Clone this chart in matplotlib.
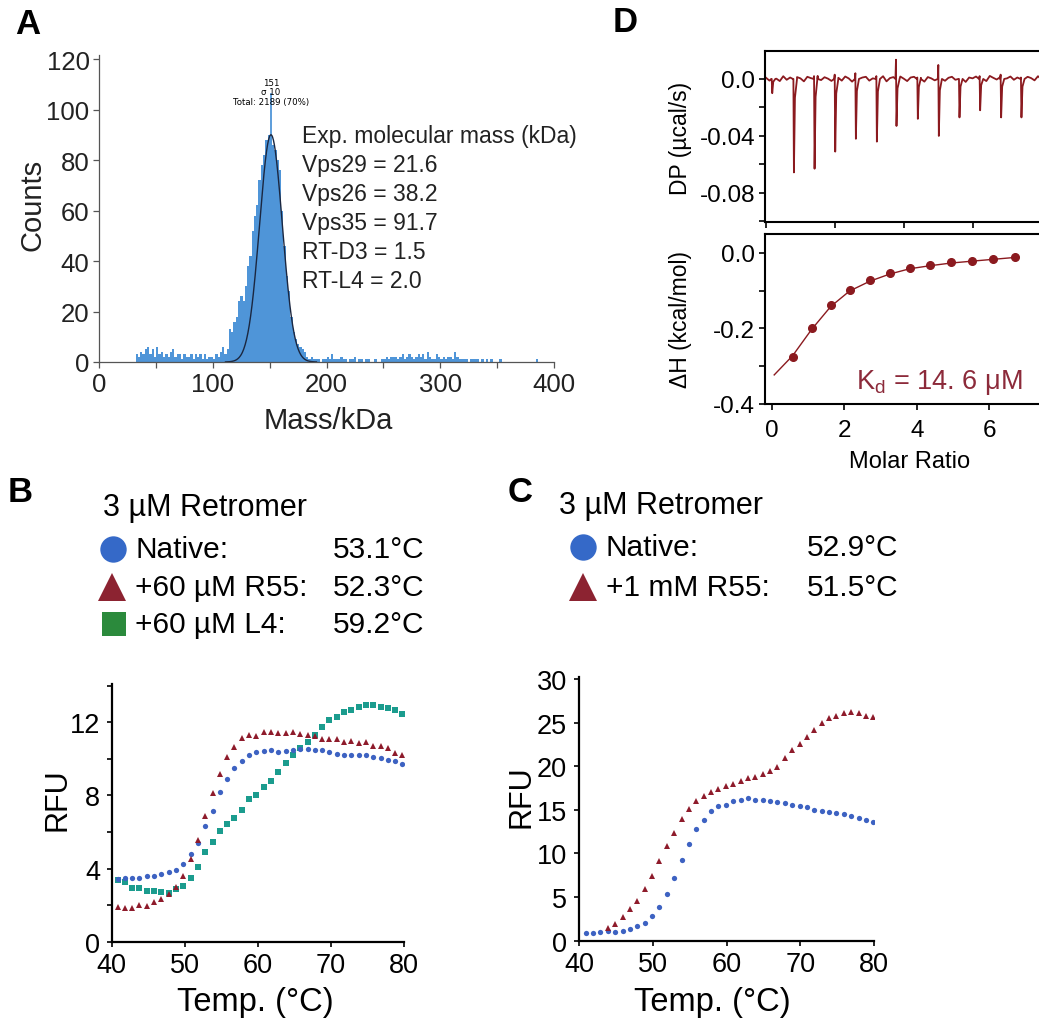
import numpy as np
import matplotlib
matplotlib.use('Agg')
import matplotlib.pyplot as plt
from matplotlib.lines import Line2D
from matplotlib.ticker import MultipleLocator, FixedLocator, FixedFormatter

plt.rcParams['font.family'] = ['Liberation Sans', 'DejaVu Sans']
plt.rcParams['axes.unicode_minus'] = False
plt.rcParams['mathtext.fontset'] = 'custom'
plt.rcParams['mathtext.rm'] = 'Liberation Sans'

W, H = 1039, 1020

# ---------------- data ----------------
# A: mass photometry histogram (2 kDa bins starting at 30 kDa)
hist_start = 30
hist_bin = 2
hist_counts = [
    0, 3, 2, 4, 3,   5, 6, 3, 5, 2,   6, 3, 4, 2, 3,   2, 4, 5, 2, 3,
    3, 1, 3, 2, 2,   3, 1, 3, 2, 3,   1, 3, 1, 2, 2,   1, 3, 2, 4, 6,
    3, 5, 13, 12, 16,   18, 24, 26, 24, 30,   38, 42, 52, 58, 62,
    72, 78, 82, 88, 90,   89, 86, 84, 80, 76,   60, 46, 34, 28, 18,
    12, 9, 7, 6, 5,   4, 2, 1, 2, 1,   1, 1, 0, 1, 1,   2, 1, 3, 1, 1,
    1, 2, 1, 1, 0,   1, 1, 2, 0, 1,   1, 0, 1, 1, 0,   0, 1, 0, 0, 1,
    1, 2, 1, 2, 2,   2, 1, 2, 3, 1,   2, 3, 2, 1, 2,   3, 2, 3, 1, 4,
    2, 1, 1, 3, 2,   1, 2, 1, 2, 2,   1, 4, 2, 1, 1,   1, 1, 0, 1, 1,
    1, 1, 0, 1, 0,   1, 0, 1, 0, 0,   0, 1, 0, 0, 0,   0, 0, 0, 0, 0,
    0, 0, 0, 0, 0,   0, 0, 1, 0, 0,
]
fit_mu = 151
fit_sigma = 10
fit_amp = 90
peak_marker = 106
fit_note = "151\nσ 10\nTotal: 2189 (70%)"
mass_lines = ["Exp. molecular mass (kDa)", "Vps29 = 21.6", "Vps26 = 38.2",
              "Vps35 = 91.7", "RT-D3 = 1.5", "RT-L4 = 2.0"]

# D: ITC raw trace (min, ucal/s) and integrated heats
base_dp = [0.8, -1.2, 1.6, 0.2, -1.5, 1.9, -0.6, 1.0, -2.4, 1.3,
           0.4, -1.7, 1.5, 0.6, -2.0, 2.1, -0.8, 1.2, 0.2, -1.4,
           2.2, 0.8, -1.2, 1.7, 0.4, -1.9, 2.4, -0.4, 1.0, 1.5,
           -1.2, 0.4, 0.8, -0.6, 1.9, -1.7, 0.6, 1.3, -0.8, 1.7,
           0.2, -1.5, 1.0, 1.5, -0.4, 0.8, -1.9, 1.3, 0.4, -1.0,
           1.9, 0.6, -1.3, 0.8, 1.5, -0.6, 0.2, 1.2, -2.1, 1.0,
           0.4, 1.7, -0.8, 0.6, -1.5, 2.1, 0.8, -0.4, 1.2, -1.7,
           0.4, 1.7, -0.6, 1.0, 0.2, -1.3, 1.5, 0.6, -1.0, 1.9,
           -0.2, 0.8, -1.5, 1.2, 0.4, -0.8, 1.0, 0.3]  # x 1e-3
inj_t = [1.7, 8.0, 14.0, 20.0, 26.0, 32.1, 37.8, 44.0, 50.1, 56.1, 62.1, 68.2, 74.1]
inj_dip = [-0.010, -0.0656, -0.063, -0.051, -0.042, -0.044, -0.033,
           -0.028, -0.040, -0.027, -0.022, -0.027, -0.027]
inj_up = [0.0, 0.0, 0.002, 0.003, 0.004, 0.002, 0.0135, 0.001, 0.0098,
          0.0, 0.002, 0.003, 0.001]
molar_ratio = [0.57, 1.09, 1.62, 2.14, 2.70, 3.25, 3.80, 4.36, 4.93, 5.51, 6.11, 6.71]
delta_h = [-0.275, -0.198, -0.139, -0.099, -0.072, -0.054, -0.039, -0.033,
           -0.025, -0.022, -0.017, -0.011]
fit_mr = [0.06, 0.57, 1.09, 1.62, 2.14, 2.70, 3.25, 3.80, 4.36, 4.93, 5.51, 6.11, 6.71]
fit_dh = [-0.323, -0.272, -0.203, -0.142, -0.101, -0.075, -0.056, -0.042,
          -0.034, -0.027, -0.022, -0.017, -0.012]
kd_text = r"K$_{\rm d}$ = 14. 6 μM"

# B: thermal shift, 3 uM retromer
temp_b = [40.8, 41.8, 42.8, 43.8, 44.8, 45.8, 46.8, 47.8, 48.8, 49.8,
          50.8, 51.8, 52.8, 53.8, 54.8, 55.8, 56.8, 57.8, 58.8, 59.8,
          60.8, 61.8, 62.8, 63.8, 64.8, 65.8, 66.8, 67.8, 68.8, 69.8,
          70.8, 71.8, 72.8, 73.8, 74.8, 75.8, 76.8, 77.8, 78.8, 79.7]
native_b = [3.43, 3.47, 3.50, 3.47, 3.57, 3.61, 3.70, 3.79, 3.92, 4.27,
            4.78, 5.40, 6.31, 7.17, 8.17, 8.90, 9.50, 9.90, 10.21, 10.36,
            10.45, 10.47, 10.40, 10.45, 10.49, 10.54, 10.54, 10.49, 10.47, 10.36,
            10.25, 10.23, 10.21, 10.21, 10.20, 10.09, 10.03, 9.96, 9.87, 9.70]
r55_b = [1.88, 1.84, 1.84, 2.00, 1.97, 2.15, 2.33, 2.60, 2.97, 3.57,
         4.52, 5.58, 6.86, 8.12, 9.17, 10.09, 10.63, 11.12, 11.31, 11.27,
         11.49, 11.45, 11.42, 11.42, 11.45, 11.36, 11.31, 11.23, 11.09, 11.09,
         11.09, 10.91, 11.00, 10.87, 10.90, 10.69, 10.69, 10.58, 10.30, 10.21]
l4_b = [3.39, 3.28, 2.92, 2.92, 2.79, 2.75, 2.72, 2.64, 2.88, 3.06,
        3.48, 4.07, 4.89, 5.47, 6.04, 6.44, 6.75, 7.22, 7.81, 8.04,
        8.48, 8.79, 9.26, 9.78, 10.21, 10.58, 10.94, 11.31, 11.73, 12.13,
        12.31, 12.58, 12.68, 12.82, 12.95, 12.97, 12.86, 12.77, 12.69, 12.46]
legend_b_labels = ["Native:", "+60 µM R55:", "+60 µM L4:"]
legend_b_tm = ["53.1°C", "52.3°C", "59.2°C"]

# C: thermal shift, 3 uM retromer + 1 mM R55
temp_c = [40.9, 41.9, 42.9, 43.9, 44.9, 45.9, 46.9, 47.9, 48.9, 49.9,
          50.9, 51.9, 52.9, 53.9, 54.9, 55.9, 56.9, 57.9, 58.9, 59.9,
          60.9, 61.9, 62.9, 63.9, 64.9, 65.9, 66.9, 67.9, 68.9, 69.9,
          70.9, 71.9, 72.9, 73.9, 74.9, 75.9, 76.9, 77.9, 78.9, 79.8]
native_c = [0.88, 0.88, 1.03, 1.07, 1.03, 1.15, 1.34, 1.72, 1.99, 2.87,
            3.90, 5.35, 7.15, 9.25, 11.08, 12.80, 13.83, 14.83, 15.40, 15.55,
            16.05, 16.16, 16.32, 16.16, 16.16, 16.05, 15.86, 15.78, 15.59, 15.48,
            15.36, 15.02, 14.90, 14.79, 14.60, 14.48, 14.33, 14.02, 13.87, 13.57]
r55_c = [1.5, 1.9, 2.7, 3.6, 4.6, 5.9, 7.4, 9.1, 10.8, 12.3,
         13.9, 15.1, 16.0, 16.6, 17.1, 17.4, 17.7, 18.0, 18.3, 18.6,
         18.8, 19.1, 19.4, 19.9, 20.9, 21.9, 22.6, 23.4, 24.2, 24.9,
         25.5, 25.8, 26.1, 26.2, 26.1, 25.8, 25.6]
legend_c_labels = ["Native:", "+1 mM R55:"]
legend_c_tm = ["52.9°C", "51.5°C"]

# ---------------- styles ----------------
BLUE = '#3d62c2'
RED = '#8e1b2b'
TEAL = '#1b9c8e'
LEG_BLUE = '#3569c8'
LEG_RED = '#8c2331'
LEG_GREEN = '#2b8a3c'
HIST = '#4f95d8'
ITC = '#8b1a1f'
TXT = '#222222'


def fx(px):
    return px / W


def fy(py):
    return 1 - py / H


def box(l, t, r, b):
    return [fx(l), fy(b), fx(r) - fx(l), fy(t) - fy(b)]


fig = plt.figure(figsize=(W / 100, H / 100), dpi=100)

# ---------------- A ----------------
axA = fig.add_axes(box(99.3, 56, 554, 363))
edges = hist_start + hist_bin * np.arange(len(hist_counts))
axA.bar(edges, hist_counts, width=hist_bin, align='edge', color=HIST, linewidth=0)
axA.plot([fit_mu, fit_mu], [0, peak_marker], color=HIST, lw=1.3)
gx = np.linspace(fit_mu - 4 * fit_sigma, fit_mu + 4 * fit_sigma, 200)
axA.plot(gx, fit_amp * np.exp(-0.5 * ((gx - fit_mu) / fit_sigma) ** 2), color='#1b2740', lw=1.0)
axA.text(fit_mu, 107, fit_note, ha='center', va='center', fontsize=6.2,
         family='DejaVu Sans', linespacing=1.05)
axA.set_xlim(0, 400)
axA.set_ylim(0, 121.6)
axA.xaxis.set_major_locator(MultipleLocator(100))
axA.xaxis.set_minor_locator(MultipleLocator(50))
axA.yaxis.set_major_locator(MultipleLocator(20))
for s in ['top', 'right']:
    axA.spines[s].set_visible(False)
for s in ['left', 'bottom']:
    axA.spines[s].set_color('#555555')
    axA.spines[s].set_linewidth(0.9)
axA.tick_params(which='both', direction='out', length=4, width=0.9, color='#555555',
                labelsize=18.5, pad=3, labelcolor=TXT)
fig.text(fx(33), fy(205), "Counts", rotation=90, ha='center', va='center', fontsize=21, color=TXT)
fig.text(fx(328), fy(421), "Mass/kDa", ha='center', va='center', fontsize=21, color=TXT)
for i, line in enumerate(mass_lines):
    fig.text(fx(302), fy(137 + i * 28.8), line, ha='left', va='center', fontsize=16.5, color=TXT)

# ---------------- D ----------------
axD1 = fig.add_axes(box(765, 52, 1060, 223))
# build the raw trace from baseline and injection peaks
tt, yy = [], []
for t, b in enumerate(base_dp):
    if any(ti - 0.2 < t < ti + 1.0 for ti in inj_t):
        continue
    tt.append(float(t))
    yy.append(b * 1e-3)
for ti, d, u in zip(inj_t, inj_dip, inj_up):
    tt += [ti - 0.2, ti - 0.05, ti + 0.1, ti + 0.4, ti + 1.0]
    yy += [0.0, u, d, d * 0.2, 0.0]
order = np.argsort(tt)
axD1.plot(np.array(tt)[order], np.array(yy)[order], color=ITC, lw=1.3)
axD1.set_xlim(-0.3, 85.4)
axD1.set_ylim(-0.1004, 0.0196)
axD1.xaxis.set_major_locator(MultipleLocator(20))
axD1.xaxis.set_major_formatter(FixedFormatter([]))
axD1.yaxis.set_major_locator(FixedLocator([0.0, -0.04, -0.08]))
axD1.yaxis.set_major_formatter(FixedFormatter(["0.0", "-0.04", "-0.08"]))
axD1.yaxis.set_minor_locator(FixedLocator([-0.02, -0.06, -0.10]))

axD2 = fig.add_axes(box(765, 235, 1060, 405))
axD2.plot(fit_mr, fit_dh, color=ITC, lw=1.0)
axD2.plot(molar_ratio, delta_h, 'o', color=ITC, ms=5.5)
axD2.set_xlim(-0.194, 7.95)
axD2.set_ylim(-0.4, 0.05)
axD2.xaxis.set_major_locator(FixedLocator([0, 2, 4, 6]))
axD2.xaxis.set_major_formatter(FixedFormatter(["0", "2", "4", "6"]))
axD2.yaxis.set_major_locator(FixedLocator([0.0, -0.2, -0.4]))
axD2.yaxis.set_major_formatter(FixedFormatter(["0.0", "-0.2", "-0.4"]))
axD2.yaxis.set_minor_locator(FixedLocator([-0.1, -0.3]))
axD2.text(0.31, 0.13, kd_text, transform=axD2.transAxes, fontsize=19.5, color='#8c2a3a',
          ha='left', va='center')

for ax in (axD1, axD2):
    ax.spines['right'].set_visible(False)
    for s in ['left', 'top', 'bottom']:
        ax.spines[s].set_linewidth(1.5)
    ax.tick_params(which='both', direction='out', length=4, width=1.2, labelsize=17.5, pad=3)
axD2.tick_params(axis='x', pad=7)
fig.text(fx(680), fy(138), "DP (µcal/s)", rotation=90, ha='center', va='center', fontsize=16.5)
fig.text(fx(680), fy(320), "ΔH (kcal/mol)", rotation=90, ha='center', va='center', fontsize=16.5)
fig.text(fx(910), fy(462), "Molar Ratio", ha='center', va='center', fontsize=17)


# ---------------- B & C ----------------
def dsf_axes(rect, ymax, ymajor, yminor):
    ax = fig.add_axes(rect)
    ax.set_xlim(40, 80)
    ax.set_ylim(0, ymax)
    ax.xaxis.set_major_locator(MultipleLocator(10))
    ax.yaxis.set_major_locator(MultipleLocator(ymajor))
    if yminor:
        ax.yaxis.set_minor_locator(MultipleLocator(yminor))
    for s in ['top', 'right']:
        ax.spines[s].set_visible(False)
    for s in ['left', 'bottom']:
        ax.spines[s].set_linewidth(1.6)
    ax.tick_params(which='both', direction='out', length=3.5, width=1.2, labelsize=19.5)
    ax.tick_params(axis='y', pad=5)
    ax.tick_params(axis='x', pad=4)
    return ax


axB = dsf_axes(box(111.7, 685, 404, 942.7), 14.1, 4, 2)
axB.plot(temp_b, l4_b, 's', color=TEAL, ms=4.5, mew=0)
axB.plot(temp_b, native_b, 'o', color=BLUE, ms=3.8, mew=0)
axB.plot(temp_b, r55_b, '^', color=RED, ms=4.2, mew=0)

axC = dsf_axes(box(579, 678, 874, 941.7), 30.23, 5, None)
axC.plot(temp_c, native_c, 'o', color=BLUE, ms=3.8, mew=0)
axC.plot(temp_c[len(temp_c) - len(r55_c):], r55_c, '^', color=RED, ms=4.2, mew=0)

fig.text(fx(58), fy(800), "RFU", rotation=90, ha='center', va='center', fontsize=22)
fig.text(fx(255), fy(1003), "Temp. (°C)", ha='center', va='center', fontsize=23.5)
fig.text(fx(521), fy(797), "RFU", rotation=90, ha='center', va='center', fontsize=22)
fig.text(fx(712), fy(1003), "Temp. (°C)", ha='center', va='center', fontsize=23.5)


def legend_block(x0, y0, xtext, xval, ys, labels, tms, markers):
    fig.text(fx(x0), fy(y0), "3 µM Retromer", ha='left', va='center', fontsize=22)
    for y, lab, tm, (mx, mk, col, ms) in zip(ys, labels, tms, markers):
        fig.add_artist(Line2D([fx(mx)], [fy(y)], marker=mk, ms=ms, color=col, mew=0,
                              transform=fig.transFigure))
        fig.text(fx(xtext), fy(y), lab, ha='left', va='center', fontsize=21.5)
        fig.text(fx(xval), fy(y), tm, ha='left', va='center', fontsize=21.5)


legend_block(103, 508, 135, 333, [550, 588, 625], legend_b_labels, legend_b_tm,
             [(113, 'o', LEG_BLUE, 19), (112, '^', LEG_RED, 20), (114, 's', LEG_GREEN, 17)])
legend_block(559, 506, 606, 807, [548, 588], legend_c_labels, legend_c_tm,
             [(583, 'o', LEG_BLUE, 19), (583, '^', LEG_RED, 20)])

# panel letters
for lab, x, y in [("A", 28, 25), ("B", 20, 493), ("C", 520, 492), ("D", 625, 23)]:
    fig.text(fx(x), fy(y), lab, ha='center', va='center', fontsize=25, fontweight='bold')

fig.savefig('out.png', dpi=100)
